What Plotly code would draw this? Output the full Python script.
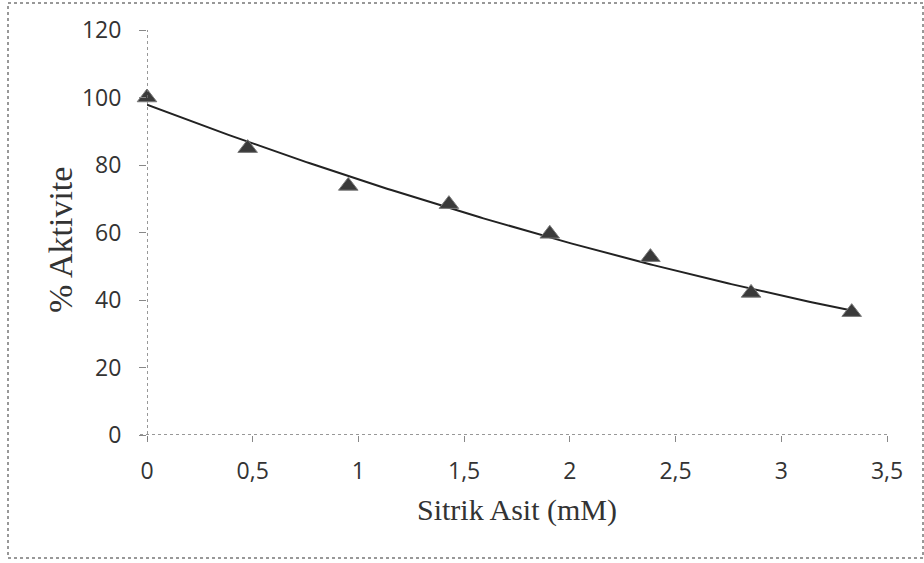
import numpy as np
import plotly.graph_objects as go

# Data
sitrik_asit_mM = [0.0, 0.476, 0.952, 1.428, 1.905, 2.381, 2.857, 3.333]
aktivite_pct = [100.0, 85.0, 73.8, 68.4, 59.6, 52.7, 42.1, 36.4]

x_ticks = [0, 0.5, 1, 1.5, 2, 2.5, 3, 3.5]
y_ticks = [0, 20, 40, 60, 80, 100, 120]

x_title = "Sitrik Asit (mM)"
y_title = "% Aktivite"

# polynomial (order 2) trendline fitted to the data
xa = np.array(sitrik_asit_mM)
ya = np.array(aktivite_pct)
coef = np.polyfit(xa, ya, 2)
xt = np.linspace(xa.min(), xa.max(), 200)
yt = np.polyval(coef, xt)

W, H = 924, 563
L, R, T, B = 147, 37, 30, 128
pw, ph = W - L - R, H - T - B

fig = go.Figure()
fig.add_trace(go.Scatter(
    x=xt, y=yt, mode="lines",
    line=dict(color="#222222", width=2),
    hoverinfo="skip", showlegend=False, cliponaxis=False,
))
fig.add_trace(go.Scatter(
    x=sitrik_asit_mM, y=aktivite_pct, mode="markers",
    marker=dict(symbol="triangle-up", size=17, color="#3a3a3a",
                line=dict(color="#7a7a7a", width=1)),
    showlegend=False, cliponaxis=False,
))

tickfont = dict(family="Open Sans, sans-serif", size=23, color="#333333")

fig.update_layout(
    width=W, height=H,
    margin=dict(l=L, r=R, t=T, b=B),
    paper_bgcolor="white", plot_bgcolor="white",
    separators=",.",
    xaxis=dict(range=[0, 3.5], tickvals=x_ticks, showgrid=False, zeroline=False,
               showline=False, ticks="outside", ticklen=6, tickcolor="#888888",
               tickfont=tickfont, ticklabelstandoff=9),
    yaxis=dict(range=[0, 120], tickvals=y_ticks, showgrid=False, zeroline=False,
               showline=False, ticks="outside", ticklen=7, tickcolor="#888888",
               tickfont=tickfont, ticklabelstandoff=13),
    shapes=[
        # dotted axis lines
        dict(type="line", xref="x", yref="paper", x0=0, x1=0, y0=-5 / ph, y1=1,
             line=dict(color="#777777", width=1.5, dash="dot")),
        dict(type="line", xref="paper", yref="y", x0=-7 / pw, x1=1, y0=0, y1=0,
             line=dict(color="#777777", width=1.5, dash="dot")),
        # dotted chart border
        dict(type="rect", xref="paper", yref="paper",
             x0=(8 - L) / pw, x1=(923 - L) / pw,
             y0=(H - B - 558) / ph, y1=(H - B - 3) / ph,
             line=dict(color="#777777", width=1.5, dash="dot")),
    ],
    annotations=[
        dict(text=x_title, xref="paper", yref="paper",
             x=(517 - L) / pw, y=(H - B - 510) / ph, showarrow=False,
             xanchor="center", yanchor="middle",
             font=dict(family="Liberation Serif, Times New Roman, serif", size=30, color="#333333")),
        dict(text=y_title, xref="paper", yref="paper", textangle=-90,
             x=(60 - L) / pw, y=(H - B - 240) / ph, showarrow=False,
             xanchor="center", yanchor="middle",
             font=dict(family="Liberation Serif, Times New Roman, serif", size=34, color="#333333")),
    ],
)

fig.write_html("out.html")
